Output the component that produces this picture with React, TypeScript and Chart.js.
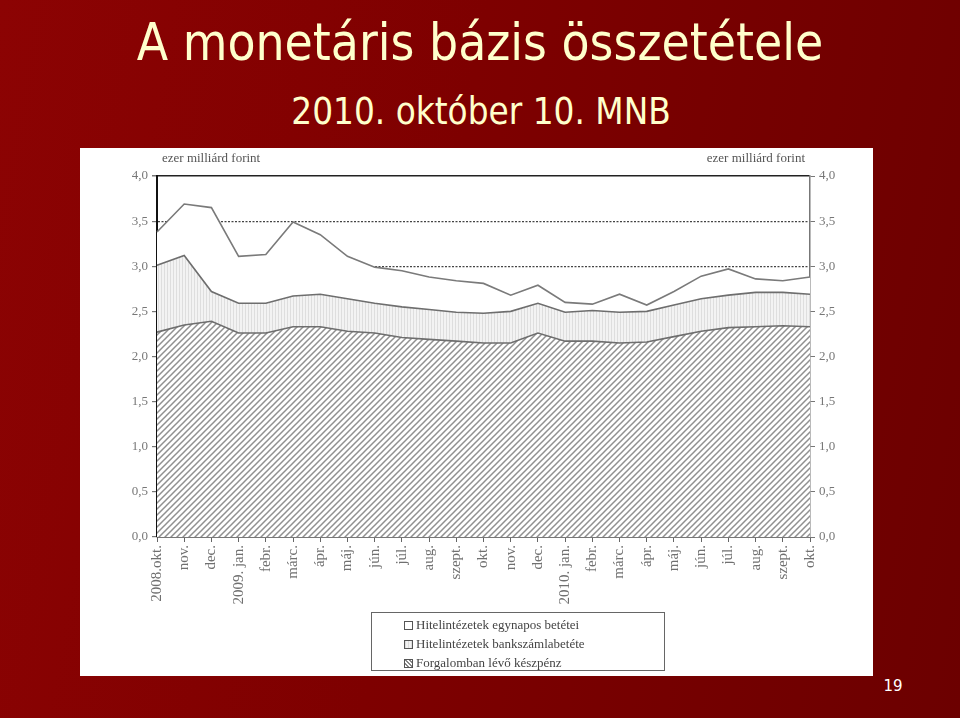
import React, { useEffect, useRef } from "react";
import { Chart, registerables } from "chart.js";

Chart.register(...registerables);

const categories = [
  "2008.okt.", "nov.", "dec.", "2009. jan.", "febr.", "márc.", "ápr.", "máj.", "jún.", "júl.", "aug.", "szept.",
  "okt.", "nov.", "dec.", "2010. jan.", "febr.", "márc.", "ápr.", "máj.", "jún.", "júl.", "aug.", "szept.", "okt.",
];

// Forgalomban lévő készpénz (ezer milliárd forint)
const cash = [
  2.27, 2.35, 2.39, 2.26, 2.26, 2.33, 2.33, 2.28, 2.26, 2.21, 2.19, 2.17,
  2.15, 2.15, 2.26, 2.17, 2.17, 2.15, 2.16, 2.22, 2.28, 2.32, 2.33, 2.34, 2.33,
];

// Hitelintézetek bankszámlabetéte
const bankAccount = [
  0.74, 0.77, 0.33, 0.33, 0.33, 0.34, 0.36, 0.36, 0.33, 0.34, 0.33, 0.32,
  0.33, 0.35, 0.33, 0.32, 0.34, 0.34, 0.34, 0.35, 0.36, 0.36, 0.38, 0.37, 0.36,
];

// Hitelintézetek egynapos betétei
const overnight = [
  0.37, 0.57, 0.93, 0.52, 0.54, 0.82, 0.66, 0.47, 0.40, 0.40, 0.36, 0.35,
  0.33, 0.18, 0.20, 0.11, 0.07, 0.20, 0.07, 0.15, 0.25, 0.29, 0.15, 0.13, 0.19,
];

const legendLabels = [
  "Hitelintézetek egynapos betétei",
  "Hitelintézetek bankszámlabetéte",
  "Forgalomban lévő készpénz",
];

const unitLabel = "ezer milliárd forint";

function hatchPattern(ctx: CanvasRenderingContext2D) {
  const s = 6;
  const c = document.createElement("canvas");
  c.width = s;
  c.height = s;
  const g = c.getContext("2d")!;
  g.fillStyle = "#ffffff";
  g.fillRect(0, 0, s, s);
  g.strokeStyle = "#909090";
  g.lineWidth = 1.5;
  g.beginPath();
  g.moveTo(-1, s + 1);
  g.lineTo(s + 1, -1);
  g.moveTo(-2, 2);
  g.lineTo(2, -2);
  g.moveTo(s - 2, s + 2);
  g.lineTo(s + 2, s - 2);
  g.stroke();
  return ctx.createPattern(c, "repeat")!;
}

function stripePattern(ctx: CanvasRenderingContext2D) {
  const c = document.createElement("canvas");
  c.width = 3;
  c.height = 3;
  const g = c.getContext("2d")!;
  g.fillStyle = "#f3f3f3";
  g.fillRect(0, 0, 3, 3);
  g.fillStyle = "#dedede";
  g.fillRect(0, 0, 1, 3);
  return ctx.createPattern(c, "repeat")!;
}

const tickFmt = (v: any) => Number(v).toFixed(1).replace(".", ",");

export default function App() {
  const ref = useRef<HTMLCanvasElement>(null);

  useEffect(() => {
    const canvas = ref.current!;
    const ctx = canvas.getContext("2d")!;
    const hatch = hatchPattern(ctx);
    const stripes = stripePattern(ctx);
    const lineColor = "#6e6e6e";
    const serif = "'Liberation Serif', 'DejaVu Serif', serif";

    const chart = new Chart(canvas, {
      type: "line",
      data: {
        labels: categories,
        datasets: [
          {
            label: legendLabels[2],
            data: cash,
            fill: "origin",
            backgroundColor: hatch,
            borderColor: lineColor,
            borderWidth: 1.6,
            pointRadius: 0,
            tension: 0,
          },
          {
            label: legendLabels[1],
            data: bankAccount,
            fill: "-1",
            backgroundColor: stripes,
            borderColor: lineColor,
            borderWidth: 1.6,
            pointRadius: 0,
            tension: 0,
          },
          {
            label: legendLabels[0],
            data: overnight,
            fill: "-1",
            backgroundColor: "#ffffff",
            borderColor: "#7a7a7a",
            borderWidth: 1.6,
            pointRadius: 0,
            tension: 0,
          },
        ],
      },
      options: {
        animation: false,
        responsive: false,
        devicePixelRatio: 1,
        layout: { padding: { top: 28, left: 0, right: 0, bottom: 0 } },
        plugins: {
          legend: { display: false },
          tooltip: { enabled: false },
        },
        scales: {
          x: {
            type: "category",
            offset: false,
            afterFit: (s: any) => {
              s.height = 139;
            },
            grid: {
              drawOnChartArea: false,
              drawTicks: true,
              tickLength: 5,
              tickColor: "#666",
              tickWidth: 1,
            },
            border: { display: true, color: "#777", width: 1 },
            ticks: {
              autoSkip: false,
              minRotation: 90,
              maxRotation: 90,
              padding: 3,
              color: "#707070",
              font: { family: serif, size: 15 },
            },
          },
          y: {
            position: "left",
            stacked: true,
            min: 0,
            max: 4,
            afterFit: (s: any) => {
              s.width = 77;
            },
            grid: {
              color: (c: any) => (c.tick && c.tick.value === 4 ? "#222" : "#444"),
              lineWidth: (c: any) => (c.tick && c.tick.value === 4 ? 1.5 : 1.2),
              drawTicks: true,
              tickLength: 5,
              tickColor: "#777",
            },
            border: {
              display: true,
              color: "#111",
              width: 2,
              dash: (c: any) => (c.tick && c.tick.value !== 4 ? [2, 1.5] : []),
            },
            ticks: {
              stepSize: 0.5,
              padding: 4,
              color: "#777",
              font: { family: serif, size: 13 },
              callback: tickFmt,
            },
          },
          y2: {
            position: "right",
            min: 0,
            max: 4,
            afterFit: (s: any) => {
              s.width = 63;
            },
            grid: {
              drawOnChartArea: false,
              drawTicks: true,
              tickLength: 5,
              tickColor: "#777",
            },
            border: { display: true, color: "#777", width: 1.5 },
            ticks: {
              stepSize: 0.5,
              padding: 4,
              color: "#777",
              font: { family: serif, size: 13 },
              callback: tickFmt,
            },
          },
        },
      },
    });
    return () => chart.destroy();
  }, []);

  const serif = "'Liberation Serif', 'DejaVu Serif', serif";
  const markerBase: React.CSSProperties = {
    display: "inline-block",
    width: 7,
    height: 7,
    border: "1px solid #555",
    marginRight: 3,
    verticalAlign: "-1px",
  };
  const markers: React.CSSProperties[] = [
    { ...markerBase, background: "#fff" },
    {
      ...markerBase,
      background: "repeating-linear-gradient(90deg, #dcdcdc 0px, #dcdcdc 1px, #f2f2f2 1px, #f2f2f2 3px)",
    },
    {
      ...markerBase,
      background: "repeating-linear-gradient(45deg, #fff 0px, #fff 1.5px, #888 1.5px, #888 3px)",
    },
  ];

  return (
    <div
      style={{
        position: "absolute",
        left: 0,
        top: 0,
        width: 960,
        height: 718,
        overflow: "hidden",
        background: "linear-gradient(100deg, #8c0303 0%, #7e0000 45%, #6c0000 100%)",
        fontFamily: "'DejaVu Sans Condensed', 'DejaVu Sans', sans-serif",
      }}
    >
      <div
        style={{
          position: "absolute",
          left: 0,
          width: 960,
          top: 13,
          textAlign: "center",
          fontSize: 51,
          lineHeight: "60px",
          color: "#ffffcc",
          fontStretch: "condensed",
        }}
      >
        A monetáris bázis összetétele
      </div>
      <div
        style={{
          position: "absolute",
          left: 0,
          width: 962,
          top: 90,
          textAlign: "center",
          fontSize: 36.5,
          lineHeight: "44px",
          color: "#ffffcc",
          fontStretch: "condensed",
        }}
      >
        2010. október 10. MNB
      </div>
      <div
        style={{
          position: "absolute",
          left: 80,
          top: 148,
          width: 793,
          height: 528,
          background: "#ffffff",
        }}
      >
        <canvas ref={ref} width={793} height={528} style={{ display: "block" }} />
        <div
          style={{
            position: "absolute",
            left: 82,
            top: 2,
            fontFamily: serif,
            fontSize: 13,
            color: "#555",
          }}
        >
          {unitLabel}
        </div>
        <div
          style={{
            position: "absolute",
            right: 68,
            top: 2,
            fontFamily: serif,
            fontSize: 13,
            color: "#555",
          }}
        >
          {unitLabel}
        </div>
        <div
          style={{
            position: "absolute",
            left: 291,
            top: 464,
            width: 294,
            height: 59,
            border: "1.5px solid #666",
            boxSizing: "border-box",
            fontFamily: serif,
            fontSize: 13,
            color: "#444",
            paddingLeft: 32,
            paddingTop: 2,
            lineHeight: "19px",
          }}
        >
          {legendLabels.map((t, i) => (
            <div key={i} style={{ whiteSpace: "nowrap" }}>
              <span style={markers[i]} />
              {t}
            </div>
          ))}
        </div>
      </div>
      <div
        style={{
          position: "absolute",
          left: 879,
          top: 677,
          width: 28,
          textAlign: "center",
          fontFamily: "'DejaVu Sans', sans-serif",
          fontSize: 15,
          color: "#ffffff",
        }}
      >
        19
      </div>
    </div>
  );
}
